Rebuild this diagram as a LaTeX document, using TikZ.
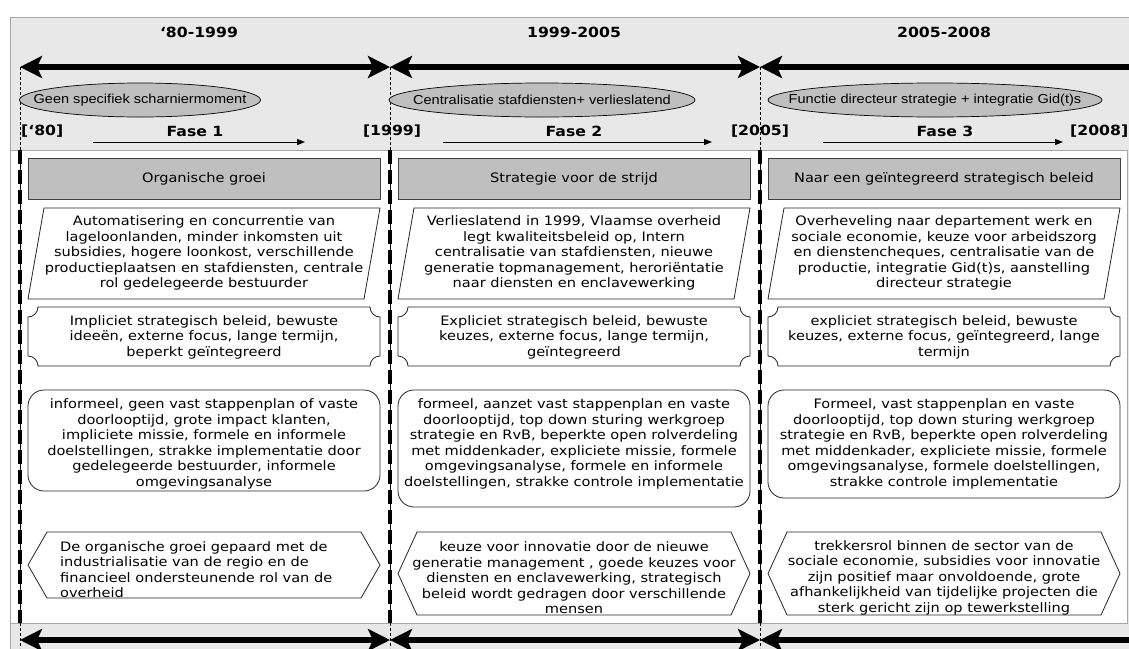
\documentclass[tikz,border=0pt]{standalone}
\usepackage{fontspec}
\setmainfont[FakeStretch=1.12]{DejaVu Sans}
\newfontfamily\arialf[FakeStretch=1.12]{Liberation Sans}
\usetikzlibrary{arrows.meta,shapes.geometric}
\tikzset{
  hdrbox/.style={draw=black!75, fill=gray!50, line width=0.8pt},
  shapebox/.style={draw=black!85, fill=white, line width=0.8pt},
  bodytxt/.style={font=\fontsize{13}{15.5}\selectfont, align=center, inner sep=0pt, text=black},
  boldtxt/.style={font=\fontsize{14}{16}\selectfont\bfseries, inner sep=0pt, text=black},
  ellip/.style={ellipse, draw=black, fill=gray!50, line width=0.7pt, inner sep=0pt, minimum height=34pt},
  elliptxt/.style={inner sep=0pt, font=\arialf\fontsize{13}{15}\selectfont, text=black},
  bigarrow/.style={line width=6.5pt, {Stealth[length=22pt,width=22pt,inset=5pt]}-{Stealth[length=22pt,width=22pt,inset=5pt]}},
  fasearrow/.style={line width=1pt, -{Triangle[length=8pt,width=6pt]}},
  thindash/.style={line width=0.6pt, dash pattern=on 3pt off 2pt},
  thickdash/.style={line width=3.2pt, dash pattern=on 14pt off 6pt}
}
\begin{document}
\begin{tikzpicture}[x=1pt,y=-1pt]
\useasboundingbox (0,0) rectangle (1129,648);
\clip (0,0) rectangle (1129,648);
% background frame
\fill[gray!18] (10,17) rectangle (1170,690);
\draw[gray!70, line width=1pt] (10,690) -- (10,17) -- (1170,17);
\draw[gray!70, line width=1pt, fill=white] (10,150) rectangle (1127,623);

% column separators
\foreach \xs in {20,390,760}{
  \draw[thindash] (\xs,67) -- (\xs,150);
  \draw[thindash] (\xs,623) -- (\xs,648);
  \draw[line width=0.6pt] (\xs,150) -- (\xs,623);
  \draw[thickdash] (\xs,150) -- (\xs,623);
}

% titles
\node[boldtxt] (t1) at (199,32) {‘80-1999};
\node[boldtxt] (t2) at (574,32) {1999-2005};
\node[boldtxt] (t3) at (944,32) {2005-2008};

% big arrows top
\coordinate (p0) at (20,67);
\coordinate (p1) at (390,67);
\coordinate (p2) at (760,67);
\coordinate (p3) at (1180,67);
\draw[bigarrow] (p0) -- (p1);
\draw[bigarrow] (p1) -- (p2);
\draw[bigarrow] (p2) -- (p3);

% big arrows bottom
\coordinate (q0) at (20,640);
\coordinate (q1) at (390,640);
\coordinate (q2) at (760,640);
\coordinate (q3) at (1180,640);
\draw[bigarrow] (q0) -- (q1);
\draw[bigarrow] (q1) -- (q2);
\draw[bigarrow] (q2) -- (q3);

% ellipses
\node[ellip, minimum width=241pt] (e1) at (140,100) {};
\node[ellip, minimum width=306pt] (e2) at (542,100) {};
\node[ellip, minimum width=334pt] (e3) at (935,100) {};
\node[elliptxt] (e1t) at (e1.center) {Geen specifiek scharniermoment};
\node[elliptxt] (e2t) at (e2.center) {Centralisatie stafdiensten+ verlieslatend};
\node[elliptxt] (e3t) at (e3.center) {Functie directeur strategie + integratie Gid(t)s};

% bracket labels
\node[boldtxt, anchor=west] (b0) at (21,131) {[‘80]};
\node[boldtxt] (b1) at (392,131) {[1999]};
\node[boldtxt] (b2) at (760,131) {[2005]};
\node[boldtxt, anchor=west] (b3) at (1070,131) {[2008]};

% fase labels and arrows
\node[boldtxt] (f1) at (195,131) {Fase 1};
\node[boldtxt] (f2) at (574,131) {Fase 2};
\node[boldtxt] (f3) at (945,131) {Fase 3};
\coordinate (fa1s) at (93,142);  \coordinate (fa1e) at (305,142);
\coordinate (fa2s) at (443,142); \coordinate (fa2e) at (712,142);
\coordinate (fa3s) at (823,142); \coordinate (fa3e) at (1063,142);
\draw[fasearrow] (fa1s) -- (fa1e);
\draw[fasearrow] (fa2s) -- (fa2e);
\draw[fasearrow] (fa3s) -- (fa3e);

% column shapes
\foreach \xa/\rb/\hb in {28/491/598, 398/507/615, 768/498/615}{
  % header
  \draw[hdrbox] (\xa,158) rectangle ({\xa+352},199);
  % parallelogram
  \draw[shapebox] ({\xa+16},208) -- ({\xa+352},208) -- ({\xa+336},299) -- (\xa,299) -- cycle;
  % plaque
  \draw[shapebox] ({\xa+10},307) -- ({\xa+342},307)
     .. controls ({\xa+342},{307+5.5}) and ({\xa+346.5},317) .. ({\xa+352},317)
     -- ({\xa+352},356)
     .. controls ({\xa+346.5},356) and ({\xa+342},{366-5.5}) .. ({\xa+342},366)
     -- ({\xa+10},366)
     .. controls ({\xa+10},{366-5.5}) and ({\xa+5.5},356) .. (\xa,356)
     -- (\xa,317)
     .. controls ({\xa+5.5},317) and ({\xa+10},{307+5.5}) .. ({\xa+10},307) -- cycle;
  % rounded rectangle
  \draw[shapebox, rounded corners=16pt] (\xa,390) rectangle ({\xa+352},\rb);
  % hexagon
  \draw[shapebox] (\xa,{(532+\hb)/2}) -- ({\xa+19},532) -- ({\xa+333},532) -- ({\xa+352},{(532+\hb)/2}) -- ({\xa+333},\hb) -- ({\xa+19},\hb) -- cycle;
}

% column 1 texts
\node[bodytxt] (h1) at (204,178.5) {Organische groei};
\node[bodytxt] (pa1) at (204,253) {Automatisering en concurrentie van\\lageloonlanden, minder inkomsten uit\\subsidies, hogere loonkost, verschillende\\productieplaatsen en stafdiensten, centrale\\rol gedelegeerde bestuurder};
\node[bodytxt] (pl1) at (204,337.3) {Impliciet strategisch beleid, bewuste\\ideeën, externe focus, lange termijn,\\beperkt geïntegreerd};
\node[bodytxt] (r1) at (204,444) {informeel, geen vast stappenplan of vaste\\doorlooptijd, grote impact klanten,\\impliciete missie, formele en informele\\doelstellingen, strakke implementatie door\\gedelegeerde bestuurder, informele\\omgevingsanalyse};
\node[bodytxt, align=left, anchor=west] (x1) at (60,569.7) {De organische groei gepaard met de\\industrialisatie van de regio en de\\financieel ondersteunende rol van de\\overheid};

% column 2 texts
\node[bodytxt] (h2) at (574,178.5) {Strategie voor de strijd};
\node[bodytxt] (pa2) at (574,253) {Verlieslatend in 1999, Vlaamse overheid\\legt kwaliteitsbeleid op, Intern\\centralisatie van stafdiensten, nieuwe\\generatie topmanagement, heroriëntatie\\naar diensten en enclavewerking};
\node[bodytxt] (pl2) at (574,337.3) {Expliciet strategisch beleid, bewuste\\keuzes, externe focus, lange termijn,\\geïntegreerd};
\node[bodytxt] (r2) at (574,444) {formeel, aanzet vast stappenplan en vaste\\doorlooptijd, top down sturing werkgroep\\strategie en RvB, beperkte open rolverdeling\\met middenkader, expliciete missie, formele\\omgevingsanalyse, formele en informele\\doelstellingen, strakke controle implementatie};
\node[bodytxt] (x2) at (574,577.7) {keuze voor innovatie door de nieuwe\\generatie management , goede keuzes voor\\diensten en enclavewerking, strategisch\\beleid wordt gedragen door verschillende\\mensen};

% column 3 texts
\node[bodytxt] (h3) at (944,178.5) {Naar een geïntegreerd strategisch beleid};
\node[bodytxt] (pa3) at (944,253) {Overheveling naar departement werk en\\sociale economie, keuze voor arbeidszorg\\en dienstencheques, centralisatie van de\\productie, integratie Gid(t)s, aanstelling\\directeur strategie};
\node[bodytxt] (pl3) at (944,337.3) {expliciet strategisch beleid, bewuste\\keuzes, externe focus, geïntegreerd, lange\\termijn};
\node[bodytxt] (r3) at (944,444) {Formeel, vast stappenplan en vaste\\doorlooptijd, top down sturing werkgroep\\strategie en RvB, beperkte open rolverdeling\\met middenkader, expliciete missie, formele\\omgevingsanalyse, formele doelstellingen,\\strakke controle implementatie};
\node[bodytxt] (x3) at (944,577.7) {trekkersrol binnen de sector van de\\sociale economie, subsidies voor innovatie\\zijn positief maar onvoldoende, grote\\afhankelijkheid van tijdelijke projecten die\\sterk gericht zijn op tewerkstelling};
\end{tikzpicture}
\end{document}
